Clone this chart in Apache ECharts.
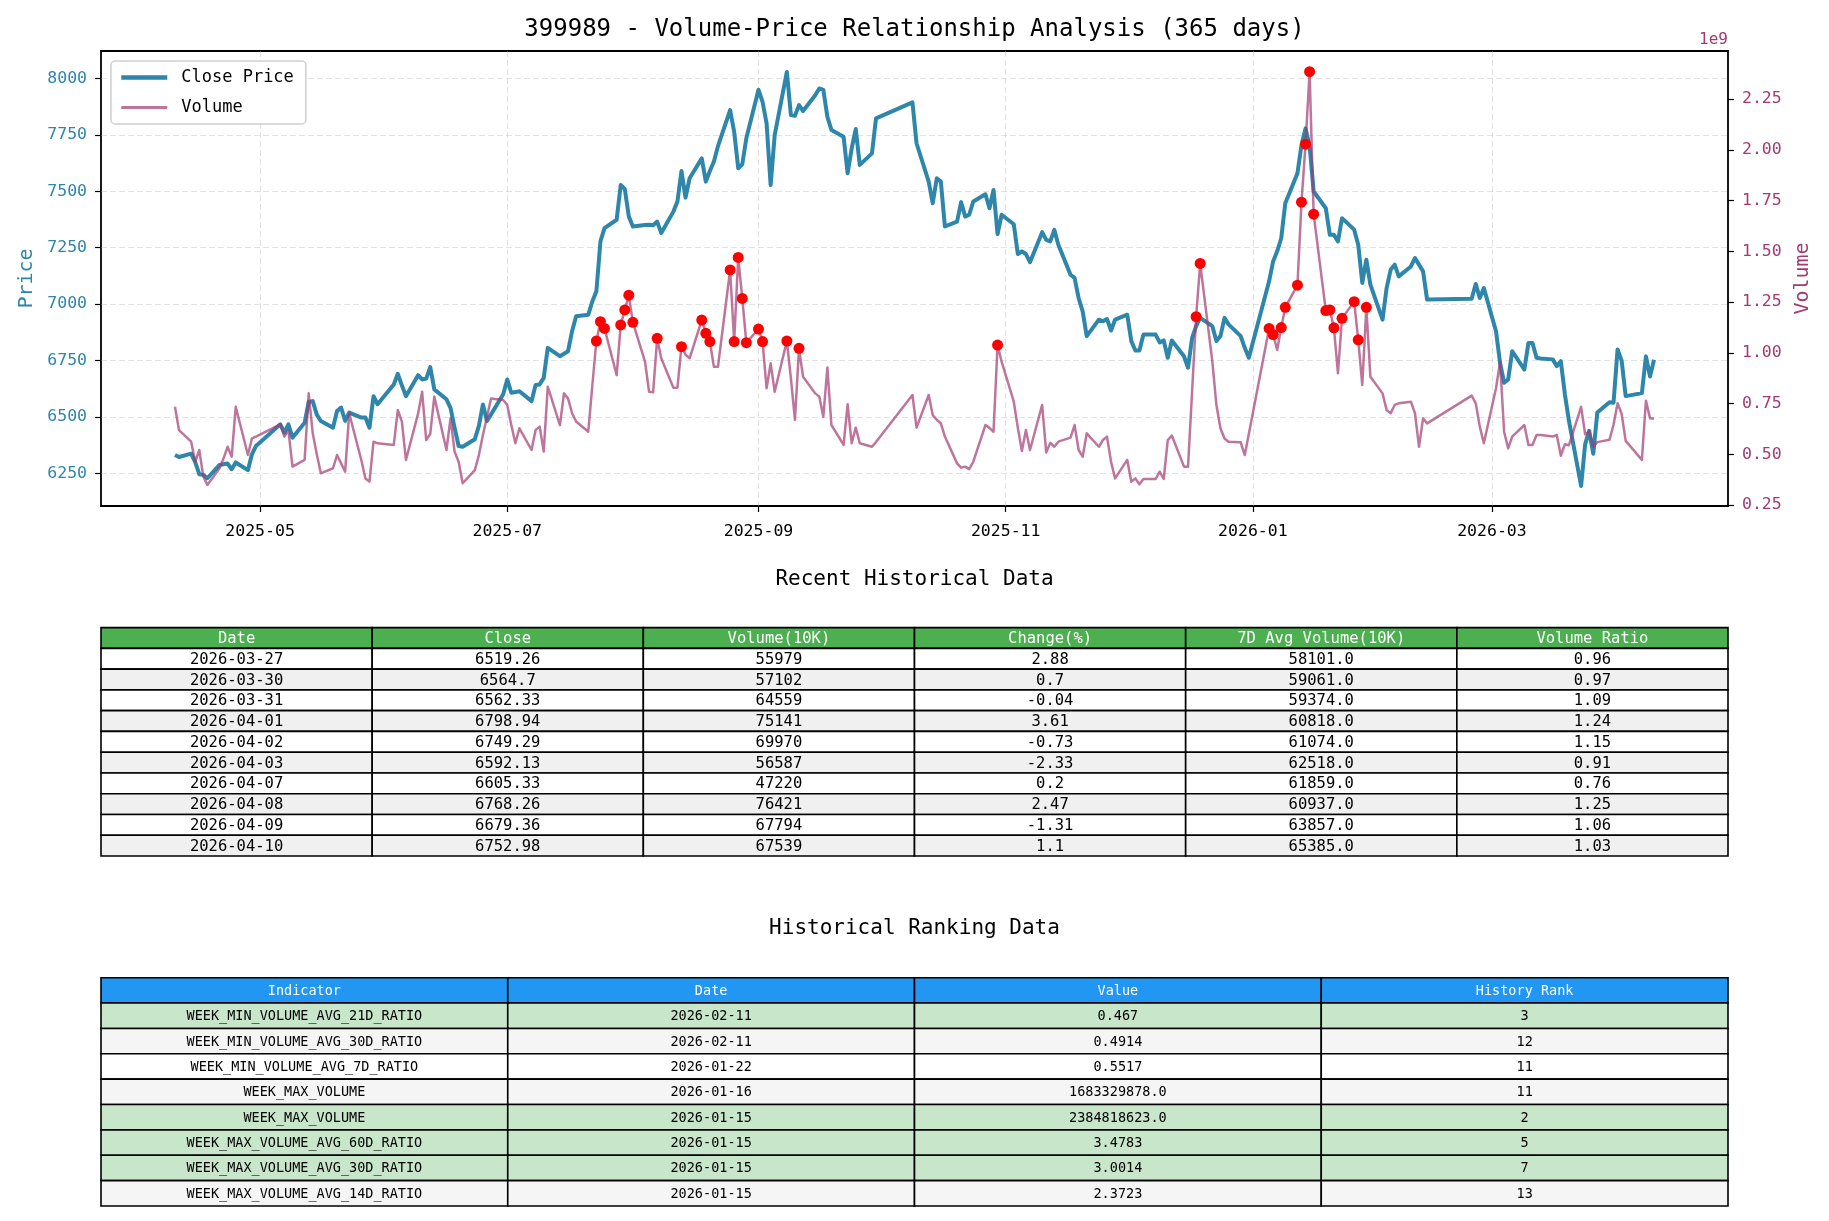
<!DOCTYPE html>
<html>
<head>
<meta charset="utf-8">
<title>399989 Volume-Price Relationship Analysis</title>
<script src="https://cdn.jsdelivr.net/npm/echarts@6/dist/echarts.min.js"></script>
<style>
  html, body { margin: 0; padding: 0; background: #fff; }
  #chart { width: 1829px; height: 1221px; }
</style>
</head>
<body>
<div id="chart"></div>
<script>
const FONT = '"DejaVu Sans Mono", "Liberation Mono", monospace'
const PRICE_COLOR = '#2E86AB'
const VOLUME_COLOR = '#A23B72'

// trading days, 2025-04-10 .. 2026-04-10
const dates = [
  '2025-04-10','2025-04-11','2025-04-14','2025-04-15','2025-04-16','2025-04-17','2025-04-18','2025-04-21','2025-04-22','2025-04-23','2025-04-24','2025-04-25','2025-04-28','2025-04-29','2025-04-30',
  '2025-05-06','2025-05-07','2025-05-08','2025-05-09','2025-05-12','2025-05-13','2025-05-14','2025-05-15','2025-05-16','2025-05-19','2025-05-20','2025-05-21','2025-05-22','2025-05-23','2025-05-26','2025-05-27','2025-05-28','2025-05-29','2025-05-30',
  '2025-06-03','2025-06-04','2025-06-05','2025-06-06','2025-06-09','2025-06-10','2025-06-11','2025-06-12','2025-06-13','2025-06-16','2025-06-17','2025-06-18','2025-06-19','2025-06-20','2025-06-23','2025-06-24','2025-06-25','2025-06-26','2025-06-27','2025-06-30',
  '2025-07-01','2025-07-02','2025-07-03','2025-07-04','2025-07-07','2025-07-08','2025-07-09','2025-07-10','2025-07-11','2025-07-14','2025-07-15','2025-07-16','2025-07-17','2025-07-18','2025-07-21','2025-07-22','2025-07-23','2025-07-24','2025-07-25','2025-07-28','2025-07-29','2025-07-30','2025-07-31',
  '2025-08-01','2025-08-04','2025-08-05','2025-08-06','2025-08-07','2025-08-08','2025-08-11','2025-08-12','2025-08-13','2025-08-14','2025-08-15','2025-08-18','2025-08-19','2025-08-20','2025-08-21','2025-08-22','2025-08-25','2025-08-26','2025-08-27','2025-08-28','2025-08-29',
  '2025-09-01','2025-09-02','2025-09-03','2025-09-04','2025-09-05','2025-09-08','2025-09-09','2025-09-10','2025-09-11','2025-09-12','2025-09-15','2025-09-16','2025-09-17','2025-09-18','2025-09-19','2025-09-22','2025-09-23','2025-09-24','2025-09-25','2025-09-26','2025-09-29','2025-09-30',
  '2025-10-09','2025-10-10','2025-10-13','2025-10-14','2025-10-15','2025-10-16','2025-10-17','2025-10-20','2025-10-21','2025-10-22','2025-10-23','2025-10-24','2025-10-27','2025-10-28','2025-10-29','2025-10-30','2025-10-31',
  '2025-11-03','2025-11-04','2025-11-05','2025-11-06','2025-11-07','2025-11-10','2025-11-11','2025-11-12','2025-11-13','2025-11-14','2025-11-17','2025-11-18','2025-11-19','2025-11-20','2025-11-21','2025-11-24','2025-11-25','2025-11-26','2025-11-27','2025-11-28',
  '2025-12-01','2025-12-02','2025-12-03','2025-12-04','2025-12-05','2025-12-08','2025-12-09','2025-12-10','2025-12-11','2025-12-12','2025-12-15','2025-12-16','2025-12-17','2025-12-18','2025-12-19','2025-12-22','2025-12-23','2025-12-24','2025-12-25','2025-12-26','2025-12-29','2025-12-30','2025-12-31',
  '2026-01-05','2026-01-06','2026-01-07','2026-01-08','2026-01-09','2026-01-12','2026-01-13','2026-01-14','2026-01-15','2026-01-16','2026-01-19','2026-01-20','2026-01-21','2026-01-22','2026-01-23','2026-01-26','2026-01-27','2026-01-28','2026-01-29','2026-01-30',
  '2026-02-02','2026-02-03','2026-02-04','2026-02-05','2026-02-06','2026-02-09','2026-02-10','2026-02-11','2026-02-12','2026-02-13','2026-02-24','2026-02-25','2026-02-26','2026-02-27',
  '2026-03-02','2026-03-03','2026-03-04','2026-03-05','2026-03-06','2026-03-09','2026-03-10','2026-03-11','2026-03-12','2026-03-13','2026-03-16','2026-03-17','2026-03-18','2026-03-19','2026-03-20','2026-03-23','2026-03-24','2026-03-25','2026-03-26','2026-03-27','2026-03-30','2026-03-31',
  '2026-04-01','2026-04-02','2026-04-03','2026-04-07','2026-04-08','2026-04-09','2026-04-10'
]

const closePrices = [
  6331,6322,6337,6300,6246,6243,6228,6287,6290,6293,6268,6298,6264,6334,6371,
  6467,6430,6467,6408,6474,6567,6570,6510,6482,6452,6526,6541,6482,6519,6497,6497,6452,6592,6556,
  6644,6691,6640,6592,6685,6666,6670,6721,6622,6578,6540,6452,6371,6368,6401,6460,6555,6482,6511,6600,
  6666,6607,6610,6614,6570,6641,6644,6673,6806,6769,6780,6791,6880,6946,6953,7012,7057,7278,7337,7374,7528,7511,7388,
  7344,7351,7352,7350,7366,7315,7410,7455,7590,7472,7558,7646,7543,7590,7632,7700,7860,7764,7602,7620,7735,
  7950,7897,7801,7528,7749,8029,7838,7835,7882,7856,7926,7956,7950,7830,7772,7742,7580,7690,7776,7617,7668,7823,
  7894,7713,7543,7447,7558,7543,7344,7366,7452,7388,7396,7455,7487,7425,7506,7310,7396,
  7354,7222,7234,7222,7186,7319,7285,7278,7329,7263,7130,7116,7027,6968,6858,6931,6924,6934,6883,6931,
  6953,6836,6794,6794,6865,6865,6830,6839,6762,6839,6769,6718,6850,6902,6939,6902,6836,6858,6939,6910,6858,6806,6762,
  7101,7189,7234,7292,7447,7580,7705,7779,7700,7499,7425,7307,7307,7278,7381,7330,7263,7094,7197,7086,
  6931,7071,7152,7175,7123,7167,7204,7175,7145,7020,7024,7089,7027,7071,
  6880,6740,6651,6666,6791,6710,6828,6828,6762,6759,6755,6725,6747,6600,6482,6194,6379,6438,6336.7,6519.26,6564.7,6562.33,
  6798.94,6749.29,6592.13,6605.33,6768.26,6679.36,6752.98
]

// volume in units of 1e9
const volumesE9 = [
  0.734,0.619,0.562,0.463,0.521,0.390,0.349,0.431,0.480,0.537,0.488,0.734,0.496,0.578,0.587,
  0.647,0.587,0.619,0.439,0.472,0.800,0.603,0.500,0.406,0.431,0.496,0.455,0.414,0.702,0.470,0.381,0.365,0.562,0.554,
  0.546,0.718,0.661,0.472,0.700,0.808,0.570,0.600,0.784,0.521,0.677,0.513,0.463,0.357,0.422,0.496,0.595,0.685,0.775,0.767,
  0.743,0.644,0.554,0.628,0.521,0.620,0.636,0.513,0.833,0.644,0.800,0.775,0.702,0.661,0.611,0.840,1.058,1.153,1.120,0.890,1.137,1.211,1.284,
  1.150,0.956,0.808,0.805,1.071,0.973,0.828,0.828,1.030,0.990,0.973,1.161,1.096,1.055,0.931,0.931,1.408,1.055,1.470,1.268,1.050,
  1.117,1.055,0.825,0.948,0.808,1.058,0.874,0.669,1.022,0.882,0.800,0.784,0.685,0.927,0.644,0.546,0.746,0.554,0.631,0.554,0.537,0.560,
  0.792,0.631,0.792,0.693,0.670,0.652,0.587,0.455,0.434,0.439,0.427,0.463,0.644,0.630,0.611,1.038,0.956,
  0.759,0.630,0.516,0.620,0.521,0.743,0.509,0.556,0.537,0.562,0.582,0.644,0.521,0.488,0.603,0.537,0.570,0.587,0.463,0.381,
  0.472,0.365,0.381,0.352,0.378,0.378,0.414,0.378,0.570,0.592,0.439,0.439,0.808,1.178,1.440,0.956,0.743,0.628,0.578,0.562,0.559,0.496,0.600,
  1.120,1.090,1.014,1.124,1.224,1.333,1.742,2.028,2.385,1.683,1.208,1.211,1.123,0.899,1.170,1.252,1.064,0.841,1.224,0.882,
  0.800,0.718,0.702,0.743,0.751,0.759,0.702,0.537,0.677,0.652,0.789,0.751,0.636,0.554,
  0.825,0.956,0.611,0.529,0.587,0.644,0.546,0.546,0.595,0.595,0.587,0.595,0.4926,0.5491,0.5445,0.7335,0.5986,0.6120,0.5367,0.5598,0.5710,0.6456,
  0.7514,0.6997,0.5659,0.4722,0.7642,0.6779,0.6754
]

// days flagged with a red marker (volume spikes)
const spikeDates = [
  '2025-07-23','2025-07-24','2025-07-25','2025-07-29','2025-07-30','2025-07-31','2025-08-01','2025-08-07','2025-08-13',
  '2025-08-18','2025-08-19','2025-08-20','2025-08-25','2025-08-26','2025-08-27','2025-08-28','2025-08-29',
  '2025-09-01','2025-09-02','2025-09-08','2025-09-11','2025-10-30','2025-12-18','2025-12-19',
  '2026-01-05','2026-01-06','2026-01-08','2026-01-09','2026-01-12','2026-01-13','2026-01-14','2026-01-15','2026-01-16',
  '2026-01-19','2026-01-20','2026-01-21','2026-01-23','2026-01-26','2026-01-27','2026-01-29'
]

const xTickMonths = ['2025-05', '2025-07', '2025-09', '2025-11', '2026-01', '2026-03']
const priceTicks = [6250, 6500, 6750, 7000, 7250, 7500, 7750, 8000]
const volumeTicks = [0.25, 0.5, 0.75, 1.0, 1.25, 1.5, 1.75, 2.0, 2.25]

// Recent Historical Data table
const recentHeader = ['Date', 'Close', 'Volume(10K)', 'Change(%)', '7D Avg Volume(10K)', 'Volume Ratio']
const recentDates = ['2026-03-27','2026-03-30','2026-03-31','2026-04-01','2026-04-02','2026-04-03','2026-04-07','2026-04-08','2026-04-09','2026-04-10']
const recentClose = [6519.26, 6564.7, 6562.33, 6798.94, 6749.29, 6592.13, 6605.33, 6768.26, 6679.36, 6752.98]
const recentVolume = [55979, 57102, 64559, 75141, 69970, 56587, 47220, 76421, 67794, 67539]
const recentChange = [2.88, 0.7, -0.04, 3.61, -0.73, -2.33, 0.2, 2.47, -1.31, 1.1]
const recentAvg7 = [58101, 59061, 59374, 60818, 61074, 62518, 61859, 60937, 63857, 65385]
const recentRatio = [0.96, 0.97, 1.09, 1.24, 1.15, 0.91, 0.76, 1.25, 1.06, 1.03]

// Historical Ranking Data table
const rankHeader = ['Indicator', 'Date', 'Value', 'History Rank']
const rankIndicators = ['WEEK_MIN_VOLUME_AVG_21D_RATIO','WEEK_MIN_VOLUME_AVG_30D_RATIO','WEEK_MIN_VOLUME_AVG_7D_RATIO','WEEK_MAX_VOLUME',
  'WEEK_MAX_VOLUME','WEEK_MAX_VOLUME_AVG_60D_RATIO','WEEK_MAX_VOLUME_AVG_30D_RATIO','WEEK_MAX_VOLUME_AVG_14D_RATIO']
const rankDates = ['2026-02-11','2026-02-11','2026-01-22','2026-01-16','2026-01-15','2026-01-15','2026-01-15','2026-01-15']
const rankValues = ['0.467', '0.4914', '0.5517', '1683329878.0', '2384818623.0', '3.4783', '3.0014', '2.3723']
const rankPositions = [3, 12, 11, 11, 2, 5, 7, 13]

const utc = (s) => Date.UTC(+s.slice(0, 4), +s.slice(5, 7) - 1, s.length > 7 ? +s.slice(8, 10) : 1)
const pad = (n) => String(n).padStart(2, '0')

const times = dates.map(utc)
const span = times[times.length - 1] - times[0]
const xMin = times[0] - span * 0.05
const xMax = times[times.length - 1] + span * 0.05

const priceData = times.map((t, i) => [t, closePrices[i]])
const volumeData = times.map((t, i) => [t, volumesE9[i]])
const spikeData = spikeDates.map((d) => [utc(d), volumesE9[dates.indexOf(d)]])

function tableCells(header, columns, headerBg, rowBg) {
  const cells = header.map((h, c) => ({ col: c, row: 0, text: h, bg: headerBg, fg: '#fff' }))
  columns[0].forEach((_, r) => {
    columns.forEach((vals, c) => {
      cells.push({ col: c, row: r + 1, text: String(vals[r]), bg: rowBg(r), fg: '#000' })
    })
  })
  return cells
}

const recentCells = tableCells(
  recentHeader,
  [recentDates, recentClose, recentVolume, recentChange, recentAvg7.map((v) => v.toFixed(1)), recentRatio],
  '#4CAF50',
  (r) => (r % 2 ? '#f0f0f0' : '#ffffff')
)
const rankCells = tableCells(
  rankHeader,
  [rankIndicators, rankDates, rankValues, rankPositions],
  '#2196F3',
  (r) => (rankPositions[r] <= 10 ? '#C8E6C9' : r % 2 ? '#f5f5f5' : '#ffffff')
)

function cellRenderer(cells, fontSize) {
  return (params, api) => {
    const cell = cells[params.dataIndex]
    const c = api.coord([api.value(0), api.value(1)])
    const s = api.size([1, 1])
    return {
      type: 'group',
      children: [
        {
          type: 'rect',
          shape: { x: c[0] - s[0] / 2, y: c[1] - s[1] / 2, width: s[0], height: s[1] },
          style: { fill: cell.bg, stroke: '#000', lineWidth: 1.6 }
        },
        {
          type: 'text',
          style: {
            text: cell.text, x: c[0], y: c[1] + 1, align: 'center', verticalAlign: 'middle',
            fill: cell.fg, fontSize: fontSize, fontFamily: FONT
          }
        }
      ]
    }
  }
}

const gridLine = { show: true, lineStyle: { color: 'rgba(176,176,176,0.35)', type: [6, 3], width: 1 } }
const tick = { show: true, inside: false, length: 6, lineStyle: { color: '#000', width: 1.2 } }
const hiddenCat = (n) => ({ type: 'category', data: Array.from({ length: n }, (_, i) => i), show: false })

const chart = echarts.init(document.getElementById('chart'), null, { renderer: 'canvas' })
chart.setOption({
  animation: false,
  backgroundColor: '#fff',
  textStyle: { fontFamily: FONT },
  title: [
    { text: '399989 - Volume-Price Relationship Analysis (365 days)', left: 'center', top: 18, padding: 0,
      textStyle: { fontSize: 24, fontWeight: 'normal', color: '#000', fontFamily: FONT } },
    { text: '1e9', right: 101, top: 32, padding: 0,
      textStyle: { fontSize: 16, fontWeight: 'normal', color: VOLUME_COLOR, fontFamily: FONT } },
    { text: 'Recent Historical Data', left: 'center', top: 569, padding: 0,
      textStyle: { fontSize: 21, fontWeight: 'normal', color: '#000', fontFamily: FONT } },
    { text: 'Historical Ranking Data', left: 'center', top: 918, padding: 0,
      textStyle: { fontSize: 21, fontWeight: 'normal', color: '#000', fontFamily: FONT } }
  ],
  legend: {
    data: [
      { name: 'Close Price', lineStyle: { width: 4.5, color: PRICE_COLOR } },
      { name: 'Volume', lineStyle: { width: 3, color: VOLUME_COLOR, opacity: 0.7 } }
    ],
    orient: 'vertical',
    left: 111, top: 61,
    padding: [8, 12, 8, 8],
    itemWidth: 46, itemHeight: 16, itemGap: 13,
    itemStyle: { opacity: 0 },
    backgroundColor: '#fff',
    borderColor: '#d0d0d0', borderWidth: 1.5, borderRadius: 4,
    textStyle: { fontSize: 17, color: '#000', fontFamily: FONT, padding: [0, 0, 0, 9] }
  },
  grid: [
    { left: 101, top: 51, width: 1627, height: 455, show: true, borderColor: '#000', borderWidth: 1.8,
      backgroundColor: 'transparent', outerBoundsMode: 'none' },
    { left: 101, top: 627.6, width: 1627, height: 228.4, outerBoundsMode: 'none' },
    { left: 101, top: 977.7, width: 1627, height: 228.3, outerBoundsMode: 'none' }
  ],
  xAxis: [
    {
      type: 'value', gridIndex: 0, min: xMin, max: xMax,
      axisLine: { show: false },
      axisTick: Object.assign({ customValues: xTickMonths.map(utc) }, tick),
      splitLine: gridLine,
      axisLabel: {
        customValues: xTickMonths.map(utc), margin: 17, fontSize: 16.5, color: '#000', fontFamily: FONT,
        formatter: (v) => { const d = new Date(v); return d.getUTCFullYear() + '-' + pad(d.getUTCMonth() + 1) }
      }
    },
    Object.assign({ gridIndex: 1 }, hiddenCat(recentHeader.length)),
    Object.assign({ gridIndex: 2 }, hiddenCat(rankHeader.length))
  ],
  yAxis: [
    {
      type: 'value', gridIndex: 0, min: 6105, max: 8122, position: 'left',
      name: 'Price', nameLocation: 'middle', nameRotate: 90, nameGap: 60,
      nameTextStyle: { color: PRICE_COLOR, fontSize: 20, fontFamily: FONT },
      axisLine: { show: false },
      axisTick: Object.assign({ customValues: priceTicks }, tick),
      splitLine: gridLine,
      axisLabel: { customValues: priceTicks, margin: 14, fontSize: 16.5, color: PRICE_COLOR, fontFamily: FONT,
        formatter: (v) => String(v) }
    },
    {
      type: 'value', gridIndex: 0, min: 0.245, max: 2.487, position: 'right',
      name: 'Volume', nameLocation: 'middle', nameRotate: 90, nameGap: 64,
      nameTextStyle: { color: VOLUME_COLOR, fontSize: 20, fontFamily: FONT },
      axisLine: { show: false },
      axisTick: Object.assign({ customValues: volumeTicks }, tick),
      splitLine: { show: false },
      axisLabel: { customValues: volumeTicks, margin: 14, fontSize: 16.5, color: VOLUME_COLOR, fontFamily: FONT,
        formatter: (v) => v.toFixed(2) }
    },
    Object.assign({ gridIndex: 1, inverse: true }, hiddenCat(recentDates.length + 1)),
    Object.assign({ gridIndex: 2, inverse: true }, hiddenCat(rankIndicators.length + 1))
  ],
  series: [
    {
      name: 'Close Price', type: 'line', xAxisIndex: 0, yAxisIndex: 0, data: priceData,
      symbol: 'none', z: 2,
      lineStyle: { color: PRICE_COLOR, width: 4, join: 'round' },
      itemStyle: { color: PRICE_COLOR }
    },
    {
      name: 'Volume', type: 'line', xAxisIndex: 0, yAxisIndex: 1, data: volumeData,
      symbol: 'none', z: 3,
      lineStyle: { color: VOLUME_COLOR, width: 2.5, opacity: 0.7, join: 'round' },
      itemStyle: { color: VOLUME_COLOR }
    },
    {
      name: 'Volume Spike', type: 'scatter', xAxisIndex: 0, yAxisIndex: 1, data: spikeData,
      symbol: 'circle', symbolSize: 11, z: 4,
      itemStyle: { color: '#ff0000', opacity: 1 }
    },
    {
      type: 'custom', xAxisIndex: 1, yAxisIndex: 2, silent: true,
      data: recentCells.map((c) => [c.col, c.row]),
      renderItem: cellRenderer(recentCells, 15.5)
    },
    {
      type: 'custom', xAxisIndex: 2, yAxisIndex: 3, silent: true,
      data: rankCells.map((c) => [c.col, c.row]),
      renderItem: cellRenderer(rankCells, 13.5)
    }
  ]
})

window.addEventListener('resize', () => chart.resize())
</script>
</body>
</html>
